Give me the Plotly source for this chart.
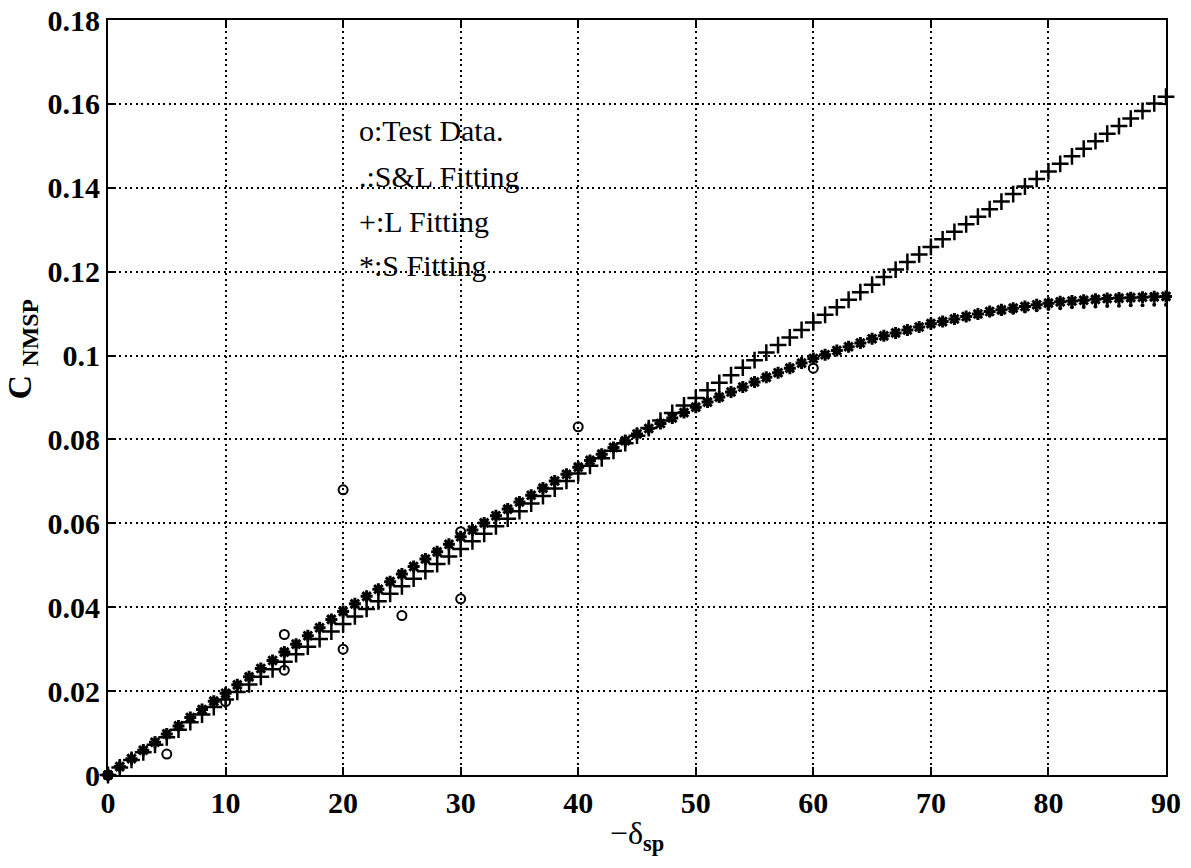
import plotly.graph_objects as go

# Flap deflection angles (deg) for the fitted curves, 0..90 step 1
delta_fit = list(range(0, 91))

# S&L fitting (dots)
c_sl_fit = [
    0.0000, 0.0020, 0.0039, 0.0059, 0.0078, 0.0098, 0.0117, 0.0137, 0.0156, 0.0176,
    0.0195, 0.0215, 0.0234, 0.0254, 0.0273, 0.0293, 0.0312, 0.0332, 0.0351, 0.0371,
    0.0390, 0.0408, 0.0426, 0.0443, 0.0461, 0.0479, 0.0497, 0.0515, 0.0532, 0.0550,
    0.0568, 0.0584, 0.0601, 0.0618, 0.0634, 0.0651, 0.0667, 0.0684, 0.0701, 0.0717,
    0.0734, 0.0750, 0.0765, 0.0781, 0.0797, 0.0813, 0.0826, 0.0838, 0.0851, 0.0864,
    0.0877, 0.0889, 0.0901, 0.0913, 0.0925, 0.0937, 0.0948, 0.0959, 0.0970, 0.0982,
    0.0993, 0.1002, 0.1012, 0.1021, 0.1030, 0.1039, 0.1046, 0.1053, 0.1060, 0.1066,
    0.1072, 0.1077, 0.1082, 0.1087, 0.1092, 0.1096, 0.1099, 0.1102, 0.1105, 0.1108,
    0.1111, 0.1113, 0.1115, 0.1116, 0.1117, 0.1118, 0.1119, 0.1120, 0.1120, 0.1121,
    0.1121,
]

# L fitting (+)
c_l_fit = [
    0.0000, 0.0018, 0.0036, 0.0054, 0.0072, 0.0090, 0.0108, 0.0126, 0.0144, 0.0162,
    0.0180, 0.0198, 0.0216, 0.0234, 0.0252, 0.0270, 0.0288, 0.0306, 0.0324, 0.0342,
    0.0360, 0.0378, 0.0396, 0.0414, 0.0432, 0.0450, 0.0468, 0.0486, 0.0503, 0.0521,
    0.0539, 0.0557, 0.0575, 0.0593, 0.0611, 0.0629, 0.0647, 0.0665, 0.0683, 0.0701,
    0.0719, 0.0737, 0.0755, 0.0773, 0.0791, 0.0809, 0.0827, 0.0845, 0.0863, 0.0881,
    0.0899, 0.0917, 0.0935, 0.0953, 0.0971, 0.0989, 0.1007, 0.1025, 0.1043, 0.1061,
    0.1079, 0.1097, 0.1115, 0.1133, 0.1151, 0.1169, 0.1187, 0.1205, 0.1223, 0.1241,
    0.1259, 0.1277, 0.1295, 0.1313, 0.1331, 0.1349, 0.1367, 0.1385, 0.1403, 0.1421,
    0.1439, 0.1457, 0.1475, 0.1493, 0.1511, 0.1529, 0.1547, 0.1565, 0.1583, 0.1601,
    0.1617,
]

# S fitting (*)
c_s_fit = [
    0.0000, 0.0020, 0.0039, 0.0059, 0.0078, 0.0098, 0.0117, 0.0137, 0.0156, 0.0176,
    0.0195, 0.0215, 0.0234, 0.0254, 0.0273, 0.0293, 0.0312, 0.0332, 0.0351, 0.0371,
    0.0390, 0.0408, 0.0426, 0.0443, 0.0461, 0.0479, 0.0497, 0.0515, 0.0532, 0.0550,
    0.0568, 0.0584, 0.0601, 0.0618, 0.0634, 0.0651, 0.0667, 0.0684, 0.0701, 0.0717,
    0.0734, 0.0750, 0.0765, 0.0781, 0.0797, 0.0813, 0.0826, 0.0838, 0.0851, 0.0864,
    0.0877, 0.0889, 0.0901, 0.0913, 0.0925, 0.0937, 0.0948, 0.0959, 0.0970, 0.0982,
    0.0993, 0.1002, 0.1012, 0.1021, 0.1030, 0.1040, 0.1047, 0.1054, 0.1061, 0.1068,
    0.1076, 0.1081, 0.1087, 0.1093, 0.1099, 0.1105, 0.1109, 0.1113, 0.1117, 0.1121,
    0.1125, 0.1128, 0.1130, 0.1132, 0.1134, 0.1136, 0.1137, 0.1138, 0.1139, 0.1140,
    0.1141,
]

# Wind-tunnel test points
delta_test = [0, 5, 10, 15, 15, 20, 20, 25, 30, 30, 40, 60]
c_test = [0.0, 0.005, 0.0175, 0.0335, 0.025, 0.068, 0.030, 0.038, 0.058, 0.042, 0.083, 0.097]

legend_lines = ["o:Test Data.", ".:S&L Fitting", "+:L Fitting", "*:S Fitting"]
legend_y = [0.1536, 0.1428, 0.1319, 0.1214]

SERIF = "Liberation Serif"

fig = go.Figure()

fig.add_trace(go.Scatter(
    x=delta_test, y=c_test, mode="markers", cliponaxis=False,
    marker=dict(symbol="circle-open", size=9, color="black", line=dict(width=2, color="black")),
))
fig.add_trace(go.Scatter(
    x=delta_fit, y=c_sl_fit, mode="markers", cliponaxis=False,
    marker=dict(symbol="circle", size=4, color="black"),
))
fig.add_trace(go.Scatter(
    x=delta_fit, y=c_l_fit, mode="markers", cliponaxis=False,
    marker=dict(symbol="cross-thin-open", size=12, color="black", line=dict(width=2.5, color="black")),
))
fig.add_trace(go.Scatter(
    x=delta_fit, y=c_s_fit, mode="markers", cliponaxis=False,
    marker=dict(symbol="asterisk-open", size=10, color="black", line=dict(width=3, color="black")),
))

for txt, yy in zip(legend_lines, legend_y):
    fig.add_annotation(
        x=21.2, y=yy, xref="x", yref="y", text=txt, showarrow=False,
        xanchor="left", yanchor="middle",
        font=dict(family=SERIF, size=30, color="black"),
    )

fig.add_annotation(
    x=-0.081, y=0.564, xref="paper", yref="paper",
    text="<b>C </b><b><sub>NMSP</sub></b>", showarrow=False, textangle=-90,
    xanchor="center", yanchor="middle",
    font=dict(family=SERIF, size=34, color="black"),
)

axis_common = dict(
    showline=True, linecolor="black", linewidth=2, mirror="ticks",
    ticks="inside", ticklen=8, tickwidth=2, tickcolor="black",
    showgrid=True, gridcolor="black", gridwidth=2, griddash="2px,3.5px",
    zeroline=False,
    tickfont=dict(family=SERIF, size=30, color="black", weight="bold"),
)

fig.update_xaxes(
    range=[0, 90], dtick=10, tick0=0,
    title=dict(text="−δ<sub><b>sp</b></sub>", font=dict(family=SERIF, size=32, color="black"), standoff=4),
    **axis_common,
)
fig.update_yaxes(range=[0, 0.18], dtick=0.02, tick0=0, **axis_common)

fig.update_layout(
    width=1191, height=868,
    margin=dict(l=108, r=25, t=20, b=93, autoexpand=False),
    plot_bgcolor="white", paper_bgcolor="white",
    showlegend=False,
)

fig.write_html("out.html")
